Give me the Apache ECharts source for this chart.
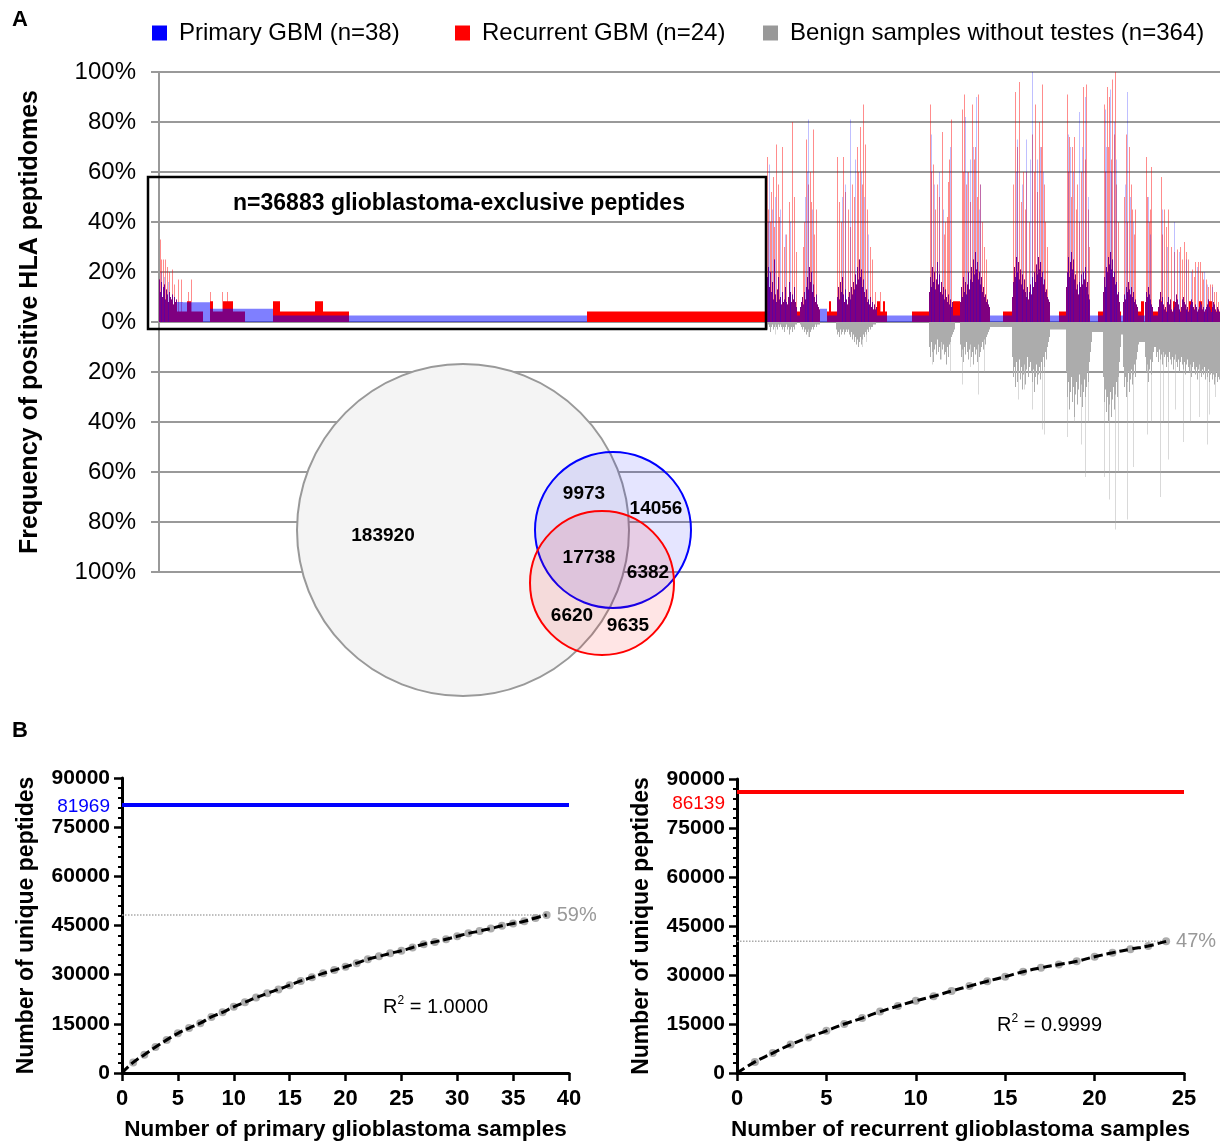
<!DOCTYPE html>
<html>
<head>
<meta charset="utf-8">
<script src="https://cdn.jsdelivr.net/npm/echarts@6/dist/echarts.min.js"></script>
<style>
  html, body { margin: 0; padding: 0; background: #fff; }
  #chart { width: 1226px; height: 1142px; }
</style>
</head>
<body>
<div id="chart"></div>
<script>
// ---- panel A: peptide frequency landscape (x = peptide rank bin) ----
const BINS = 1061
const legendNames = ['Primary GBM (n=38)', 'Recurrent GBM (n=24)', 'Benign samples without testes (n=364)']

// runs: [fromBin, toBin, % of samples]
const primaryRuns = [
  [18, 24, 8], [24, 51, 7.9], [51, 114, 5.3],
  [114, 428, 2.6], [607, 1061, 2.6], [661, 668, 5.3]
]
const recurrentRuns = [
  [18, 44, 4.2], [28, 32, 8.3], [51, 54, 8.3],
  [54, 64, 4.2], [64, 74, 8.3], [74, 86, 4.2], [114, 121, 8.3], [121, 156, 4.2], [156, 164, 8.3],
  [164, 190, 4.2], [428, 607, 4.2], [607, 661, 4.2], [668, 728, 4.2], [670, 672, 8.3],
  [718, 721, 8.3], [724, 726, 8.3], [753, 831, 4.2], [794, 801, 8.3], [844, 891, 4.2],
  [900, 931, 4.2], [939, 962, 4.2], [964, 982, 4.2], [982, 985, 8.3], [986, 1061, 4.2],
  [1000, 1003, 8.3], [1014, 1016, 8.3], [1030, 1033, 8.3], [1040, 1043, 8.3], [1050, 1053, 8.3]
]
// dense clusters where both tumour cohorts share the frequency: [startBin, per-bin %]
const overlapProfiles = [
  [0, [17, 12, 16, 10, 14, 15, 9, 13, 11, 8, 12, 10, 9, 11, 7, 10, 8, 9]],
  [607, [10, 18, 22, 14, 20, 12, 16, 9, 25, 11, 8, 13, 18, 9, 10, 7, 12, 8, 9, 14, 8, 7, 10, 16, 12, 8, 11, 9, 14, 8, 6]],
  [641, [6, 8, 10, 7, 12, 9, 14, 18, 13, 22, 16, 20, 12, 15, 10, 8, 11, 7, 6, 5]],
  [678, [10, 14, 9, 16, 12, 18, 11, 8, 13, 9, 7, 10, 12, 9, 14, 11, 16, 13, 19, 15, 22, 17, 25, 18, 21, 14, 17, 12, 10, 13,
    8, 9, 7, 10, 6, 8, 5, 7, 5, 6]],
  [770, [12, 18, 14, 22, 16, 20, 13, 17, 24, 15, 19, 12, 16, 11, 14, 9, 13, 10, 8, 11, 7, 9, 6, 8]],
  [801, [8, 14, 10, 18, 12, 16, 11, 15, 20, 13, 17, 22, 16, 25, 19, 28, 21, 24, 17, 20, 15, 18, 12, 14, 10, 11, 8, 9, 7, 6]],
  [853, [10, 16, 22, 18, 26, 20, 24, 17, 21, 15, 19, 13, 17, 12, 10, 14, 9, 12, 15, 11, 18, 14, 20, 16, 23, 19, 26, 21, 24, 18,
    20, 15, 17, 12, 13, 10, 9, 8]],
  [907, [14, 20, 26, 18, 24, 28, 21, 25, 17, 19, 13, 15, 11, 16, 14, 19, 15, 20, 17, 22, 14, 16, 11, 9]],
  [944, [12, 18, 14, 22, 20, 26, 23, 28, 21, 25, 18, 20, 15, 16, 11, 12, 8]],
  [964, [8, 11, 9, 14, 12, 16, 13, 11, 14, 10, 12, 8, 9, 7, 6]],
  [986, [8, 12, 10, 14, 11, 9, 7, 6]],
  [999, [6, 9, 12, 8, 10, 7, 5, 6, 4, 8, 10, 7, 9, 5, 4, 5, 6, 8, 11, 9, 7, 5, 4, 6, 9, 10, 8, 7, 5, 6,
    4, 5, 7, 9, 8, 6, 5, 7, 6, 4, 5, 6, 8, 7, 5, 6, 4, 5, 6, 7, 9, 6, 5, 4, 6, 8, 7, 5, 4, 6, 5, 4]]
]
// single-peptide spikes: [bin, %]
const recurrentSpikes = [
  [1, 33], [2, 25], [4, 25], [6, 25], [8, 22], [10, 20], [13, 21], [15, 15], [19, 17], [22, 17],
  [29, 12], [32, 17], [51, 12], [63, 12], [68, 12],
  [608, 66], [609, 45], [611, 40], [612, 52], [614, 58], [615, 38], [617, 71], [619, 55], [620, 42], [623, 70],
  [625, 30], [627, 35], [630, 48], [633, 80], [635, 50], [637, 28],
  [644, 30], [645, 40], [647, 73], [649, 55], [651, 60], [652, 48], [654, 77], [655, 35], [657, 45],
  [678, 66], [680, 48], [682, 40], [684, 66], [686, 52], [689, 45], [691, 38], [693, 55], [695, 50], [698, 70],
  [699, 60], [701, 78], [703, 55], [704, 87], [706, 71], [708, 45], [711, 30], [713, 25], [716, 12], [721, 12],
  [771, 87], [772, 60], [774, 63], [776, 45], [778, 55], [780, 50], [783, 76], [785, 35], [786, 40], [788, 42],
  [789, 56], [790, 65], [792, 81],
  [803, 85], [804, 60], [805, 91], [807, 55], [809, 60], [811, 48], [813, 87], [815, 65], [816, 70], [818, 50],
  [819, 91], [821, 55], [823, 40], [825, 30], [827, 25],
  [854, 55], [856, 92], [858, 70], [860, 96], [862, 48], [864, 60], [866, 45], [867, 60], [870, 40], [873, 75],
  [875, 60], [876, 87], [878, 52], [880, 80], [882, 70], [883, 95], [885, 55], [886, 40], [888, 30],
  [908, 91], [909, 60], [910, 74], [912, 50], [913, 70], [915, 74], [917, 45], [918, 55], [920, 40], [922, 60],
  [924, 94], [926, 65], [927, 95], [929, 45], [930, 30],
  [945, 87], [946, 60], [948, 94], [949, 70], [950, 90], [952, 65], [953, 97], [955, 75], [956, 100], [957, 55], [959, 40],
  [965, 50], [967, 75], [968, 40], [970, 70], [972, 55], [973, 45], [975, 35], [976, 45],
  [987, 66], [988, 50], [990, 40], [991, 45], [992, 62],
  [1002, 58], [1003, 35], [1005, 45], [1007, 38], [1009, 45], [1012, 30], [1015, 28], [1018, 29], [1021, 30],
  [1023, 25], [1025, 32], [1027, 28], [1029, 25], [1033, 21], [1035, 18], [1036, 24], [1039, 24], [1041, 24],
  [1043, 20], [1044, 17], [1047, 17], [1049, 14], [1051, 15], [1053, 15], [1055, 12], [1057, 12], [1059, 8]
]
const primarySpikes = [
  [2, 20], [5, 18], [9, 16],
  [609, 40], [610, 63], [613, 45], [616, 50], [621, 45], [626, 35], [631, 40],
  [646, 50], [648, 60], [649, 81], [653, 45],
  [683, 50], [686, 55], [691, 81], [696, 65], [702, 60], [705, 50], [709, 35],
  [772, 75], [775, 55], [780, 60], [784, 45], [791, 70],
  [806, 82], [808, 60], [811, 65], [814, 70], [817, 90], [820, 45], [821, 55],
  [857, 60], [858, 73], [863, 55], [867, 73], [871, 65], [873, 100], [878, 65], [881, 70], [884, 60],
  [909, 75], [911, 70], [914, 60], [920, 84], [923, 70], [926, 90], [929, 50],
  [946, 85], [947, 70], [951, 93], [952, 60], [955, 80], [957, 65],
  [966, 55], [968, 92], [971, 50], [974, 40],
  [989, 50], [991, 35],
  [1003, 45], [1008, 30], [1015, 40], [1020, 28], [1027, 25], [1032, 20], [1038, 22], [1045, 20], [1048, 15], [1053, 14]
]
const benignRuns = [
  [831, 853, 2], [891, 907, 3], [933, 944, 4], [962, 964, 5], [981, 986, 8]
]
const benignProfiles = [
  [607, [2, 3, 1, 2, 4, 2, 1, 3, 2, 1, 2, 3, 1, 2, 1, 2, 3, 2, 4, 2, 1, 3, 2, 5, 3, 2, 4, 2, 3, 1, 1]],
  [641, [1, 2, 3, 2, 4, 3, 5, 4, 3, 6, 4, 3, 2, 3, 2, 1, 2, 1, 1, 1]],
  [677, [3, 5, 4, 6, 3, 5, 4, 3, 5, 4, 3, 4, 3, 5, 6, 4, 7, 5, 8, 6, 9, 7, 10, 8, 6, 9, 7, 5, 6, 4, 5, 3, 4, 2, 3, 2, 2, 1, 1, 1]],
  [770, [10, 14, 8, 12, 16, 11, 9, 13, 7, 12, 10, 15, 8, 11, 9, 13, 12, 17, 10, 14, 9, 8, 6, 5, 4, 3]],
  [801, [9, 14, 11, 16, 10, 13, 8, 12, 15, 11, 9, 14, 12, 17, 10, 13, 11, 16, 9, 14, 12, 10, 8, 11, 7, 9, 6, 5, 4, 3]],
  [853, [14, 22, 18, 26, 16, 24, 20, 15, 23, 18, 27, 21, 17, 25, 19, 14, 22, 18, 16, 20, 24, 19, 28, 22, 17, 25, 21, 18, 23, 16,
    20, 14, 18, 12, 15, 10, 8, 6]],
  [907, [20, 30, 24, 35, 28, 22, 32, 26, 38, 29, 24, 33, 27, 21, 30, 25, 34, 28, 23, 30, 26, 20, 24, 16, 12, 8]],
  [944, [22, 32, 27, 36, 30, 40, 33, 28, 38, 31, 26, 35, 29, 24, 30, 22, 16, 10]],
  [964, [18, 26, 22, 30, 24, 20, 28, 23, 19, 25, 21, 17, 22, 15, 12, 9, 8]],
  [986, [14, 20, 17, 24, 19, 15, 21, 16, 12, 10]],
  [996, [10, 14, 12, 16, 11, 15, 13, 17, 12, 14, 13, 18, 14, 16, 12, 15, 17, 14, 19, 15, 13, 16, 18, 15, 20, 16, 14, 17, 19, 16,
    21, 17, 15, 18, 20, 17, 22, 18, 16, 19, 21, 18, 23, 19, 17, 20, 22, 19, 21, 18, 23, 20, 22, 19, 24, 21, 20, 23, 21, 25,
    22, 20, 24, 22, 23]]
]
const benignSpikes = [
  [616, 5], [633, 4], [649, 6], [703, 10], [707, 8],
  [773, 17], [782, 15], [791, 20], [803, 25], [811, 18], [819, 29], [825, 20],
  [859, 31], [865, 27], [873, 35], [883, 43], [885, 45],
  [908, 46], [915, 40], [922, 49], [926, 62], [929, 40],
  [945, 62], [950, 71], [956, 83], [959, 60],
  [968, 79], [974, 58], [988, 45], [992, 40],
  [1001, 70], [1004, 40], [1009, 55], [1016, 35], [1024, 48], [1031, 40],
  [1040, 38], [1048, 49], [1050, 37], [1056, 30]
]

// venn counts
const vennBenignOnly = 183920
const vennPrimaryBenign = 9973
const vennPrimaryOnly = 14056
const vennAll = 17738
const vennPrimaryRecurrent = 6382
const vennRecurrentBenign = 6620
const vennRecurrentOnly = 9635
const exclusiveCount = 36883

// ---- panel B: saturation curves ----
const primaryTotal = 81969
const recurrentTotal = 86139
const primaryCurve = [3240, 5600, 7900, 10100, 12100, 13700, 15200, 17100, 18500, 20200,
  21600, 23000, 24300, 25500, 26800, 28100, 29200, 30400, 31400, 32400,
  33500, 34700, 35600, 36500, 37300, 38300, 39300, 40000, 40800, 41700,
  42600, 43300, 44100, 44900, 45600, 46300, 47300, 48200]
const recurrentCurve = [3400, 6100, 8700, 10900, 12900, 15000, 16800, 18800, 20500, 22100,
  23500, 25100, 26600, 28100, 29500, 31000, 32200, 33200, 34200, 35600,
  36800, 37900, 38900, 40300]
const primaryR2 = '1.0000'
const recurrentR2 = '0.9999'

const FONT = '"Liberation Sans", Arial, Helvetica, sans-serif'

function fillBins(runs, profiles, spikes, sign) {
  const out = new Array(BINS).fill(0)
  const put = (i, v) => { if (i >= 0 && i < BINS) out[i] = Math.max(out[i], v) }
  runs.forEach(([a, b, v]) => { for (let i = a; i < b; i++) put(i, v) })
  profiles.forEach(([start, vals]) => vals.forEach((v, k) => put(start + k, v)))
  spikes.forEach(([i, v]) => put(i, v))
  return out.map(v => v * sign)
}

const ranks = Array.from({ length: BINS }, (_, i) => i + 1)
const primaryCore = fillBins(primaryRuns, overlapProfiles, [], 1)
const recurrentCore = fillBins(recurrentRuns, overlapProfiles, [], 1)
const primarySpike = fillBins([], [], primarySpikes, 1)
const recurrentSpike = fillBins([], [], recurrentSpikes, 1)
const benignCore = fillBins(benignRuns, benignProfiles, [], -1)
const benignSpike = fillBins([], [], benignSpikes, -1)

function barSeries(name, data, color) {
  return {
    name, type: 'bar', data, xAxisIndex: 0, yAxisIndex: 0,
    barGap: '-100%', barCategoryGap: '0%', silent: true,
    itemStyle: { color }
  }
}

function curveSeries(idx, curve, total, color, labelShift) {
  const pts = curve.map((v, i) => [i + 1, v])
  const last = curve[curve.length - 1]
  return [
    {
      type: 'line', xAxisIndex: idx, yAxisIndex: idx, symbol: 'none', silent: true,
      data: [[0, last], [curve.length, last]],
      lineStyle: { color: '#aaa', width: 1.5, type: 'dotted' },
      endLabel: {
        show: true, distance: 10, color: '#999', fontSize: 20, fontFamily: FONT,
        formatter: () => Math.round(last / total * 100) + '%'
      },
      markLine: {
        silent: true, symbol: ['none', 'none'],
        data: [{ yAxis: total }],
        lineStyle: { color, width: 4, type: 'solid' },
        label: { show: false }
      }
    },
    {
      type: 'scatter', xAxisIndex: idx, yAxisIndex: idx, silent: true,
      data: [[0, total]], symbolSize: 0, itemStyle: { color, opacity: 1 },
      label: {
        show: true, position: 'left', distance: 12, offset: [0, labelShift],
        formatter: String(total), color, opacity: 1, fontSize: 19, fontFamily: FONT
      }
    },
    {
      type: 'line', xAxisIndex: idx, yAxisIndex: idx, symbol: 'none', silent: true,
      smooth: true, data: [[0, 0]].concat(pts),
      lineStyle: { color: '#000', width: 3, type: [9, 4] }
    },
    {
      type: 'scatter', xAxisIndex: idx, yAxisIndex: idx, silent: true,
      data: pts, symbolSize: 8, itemStyle: { color: '#999' }
    }
  ]
}

function bAxisX(idx, max, name) {
  return {
    type: 'value', gridIndex: idx, min: 0, max, interval: 5,
    name, nameLocation: 'middle', nameGap: 45,
    nameTextStyle: { fontSize: 22.5, fontWeight: 'bold', color: '#000', fontFamily: FONT },
    axisLine: { lineStyle: { color: '#000', width: 3 } },
    axisTick: { length: 8, lineStyle: { color: '#000', width: 2.5 } },
    axisLabel: { fontSize: 22, fontWeight: 'bold', color: '#000', margin: 15, fontFamily: FONT },
    splitLine: { show: false }
  }
}

function bAxisY(idx) {
  return {
    type: 'value', gridIndex: idx, min: 0, max: 90000, interval: 15000,
    name: 'Number of unique peptides', nameLocation: 'middle', nameGap: 84,
    nameTextStyle: { fontSize: 23, fontWeight: 'bold', color: '#000', fontFamily: FONT },
    axisLine: { onZero: false, lineStyle: { color: '#000', width: 3 } },
    axisTick: { length: 8, lineStyle: { color: '#000', width: 2.5 } },
    minorTick: { show: true, splitNumber: 5, length: 4, lineStyle: { color: '#000', width: 2 } },
    axisLabel: { fontSize: 21, fontWeight: 'bold', color: '#000', margin: 12, fontFamily: FONT, formatter: v => String(v) },
    splitLine: { show: false }
  }
}

function legendAt(left, name, color) {
  return {
    left, top: 21, padding: 0, selectedMode: false, icon: 'rect', itemWidth: 15, itemHeight: 15,
    data: [{ name, itemStyle: { color, opacity: 1 } }],
    textStyle: { fontSize: 24, color: '#000', fontFamily: FONT, padding: [0, 0, 0, 7] }
  }
}

function label(text, x, y, size) {
  return {
    type: 'text', x, y, z: 120,
    style: { text: String(text), font: 'bold ' + size + 'px ' + FONT, fill: '#000', align: 'center', verticalAlign: 'middle' }
  }
}

function r2Text(value, x, y) {
  return {
    type: 'text', x, y, z: 120,
    style: {
      text: 'R{sup|2} = ' + value, fill: '#000', font: '20px ' + FONT, verticalAlign: 'middle',
      rich: { sup: { fontSize: 12, fontFamily: FONT, padding: [0, 0, 12, 0] } }
    }
  }
}

const chart = echarts.init(document.getElementById('chart'))
chart.setOption({
  animation: false,
  backgroundColor: '#fff',
  textStyle: { fontFamily: FONT },
  legend: [
    legendAt(152, legendNames[0], '#0000ff'),
    legendAt(455, legendNames[1], '#ff0000'),
    legendAt(763, legendNames[2], '#999999')
  ],
  grid: [
    { left: 159, top: 72, width: 1061, height: 500 },
    { left: 122, top: 778, width: 447, height: 295 },
    { left: 737, top: 779, width: 447, height: 294 }
  ],
  xAxis: [
    {
      type: 'category', gridIndex: 0, data: ranks, boundaryGap: true,
      axisLine: { show: false }, axisTick: { show: false }, axisLabel: { show: false }, splitLine: { show: false }
    },
    bAxisX(1, 40, 'Number of primary glioblastoma samples'),
    bAxisX(2, 25, 'Number of recurrent glioblastoma samples')
  ],
  yAxis: [
    {
      type: 'value', gridIndex: 0, min: -100, max: 100, interval: 20,
      name: 'Frequency of positive HLA peptidomes', nameLocation: 'middle', nameGap: 116,
      nameTextStyle: { fontSize: 25, fontWeight: 'bold', color: '#000', fontFamily: FONT },
      axisLine: { show: true, onZero: false, lineStyle: { color: '#999', width: 2 } },
      axisTick: { show: true, length: 8, lineStyle: { color: '#999', width: 2 } },
      axisLabel: { fontSize: 24, color: '#000', margin: 23, fontFamily: FONT, formatter: v => Math.abs(v) + '%' },
      splitLine: { show: true, lineStyle: { color: '#999', width: 2 } }
    },
    bAxisY(1),
    bAxisY(2)
  ],
  series: [
    barSeries('benign spikes', benignSpike, 'rgba(170,170,170,0.45)'),
    barSeries(legendNames[2], benignCore, '#acacac'),
    barSeries('recurrent spikes', recurrentSpike, 'rgba(255,0,0,0.45)'),
    barSeries(legendNames[1], recurrentCore, '#ff0000'),
    barSeries('primary spikes', primarySpike, 'rgba(0,0,255,0.25)'),
    barSeries(legendNames[0], primaryCore, 'rgba(0,0,255,0.5)')
  ].concat(curveSeries(1, primaryCurve, primaryTotal, '#0000ff', 2))
   .concat(curveSeries(2, recurrentCurve, recurrentTotal, '#ff0000', 12)),
  graphic: [
    { type: 'text', left: 12, top: 9, z: 120, style: { text: 'A', font: 'bold 22px ' + FONT, fill: '#000' } },
    { type: 'text', left: 12, top: 720, z: 120, style: { text: 'B', font: 'bold 22px ' + FONT, fill: '#000' } },
    {
      type: 'rect', z: 110, shape: { x: 148, y: 177, width: 618, height: 152 },
      style: { fill: 'rgba(0,0,0,0)', stroke: '#000', lineWidth: 2.5 }
    },
    label('n=' + exclusiveCount + ' glioblastoma-exclusive peptides', 459, 204, 23),
    { type: 'circle', z: 100, shape: { cx: 463, cy: 530, r: 166 }, style: { fill: '#f4f4f4', stroke: '#999', lineWidth: 2 } },
    { type: 'circle', z: 101, shape: { cx: 613, cy: 530, r: 78 }, style: { fill: 'rgba(0,0,255,0.1)', stroke: '#0000ff', lineWidth: 2 } },
    { type: 'circle', z: 102, shape: { cx: 602, cy: 583, r: 72 }, style: { fill: 'rgba(255,0,0,0.1)', stroke: '#ff0000', lineWidth: 2 } },
    label(vennBenignOnly, 383, 536, 19),
    label(vennPrimaryBenign, 584, 494, 19),
    label(vennPrimaryOnly, 656, 509, 19),
    label(vennAll, 589, 558, 19),
    label(vennPrimaryRecurrent, 648, 573, 19),
    label(vennRecurrentBenign, 572, 616, 19),
    label(vennRecurrentOnly, 628, 626, 19),
    r2Text(primaryR2, 383, 1007),
    r2Text(recurrentR2, 997, 1025)
  ]
})
</script>
</body>
</html>
